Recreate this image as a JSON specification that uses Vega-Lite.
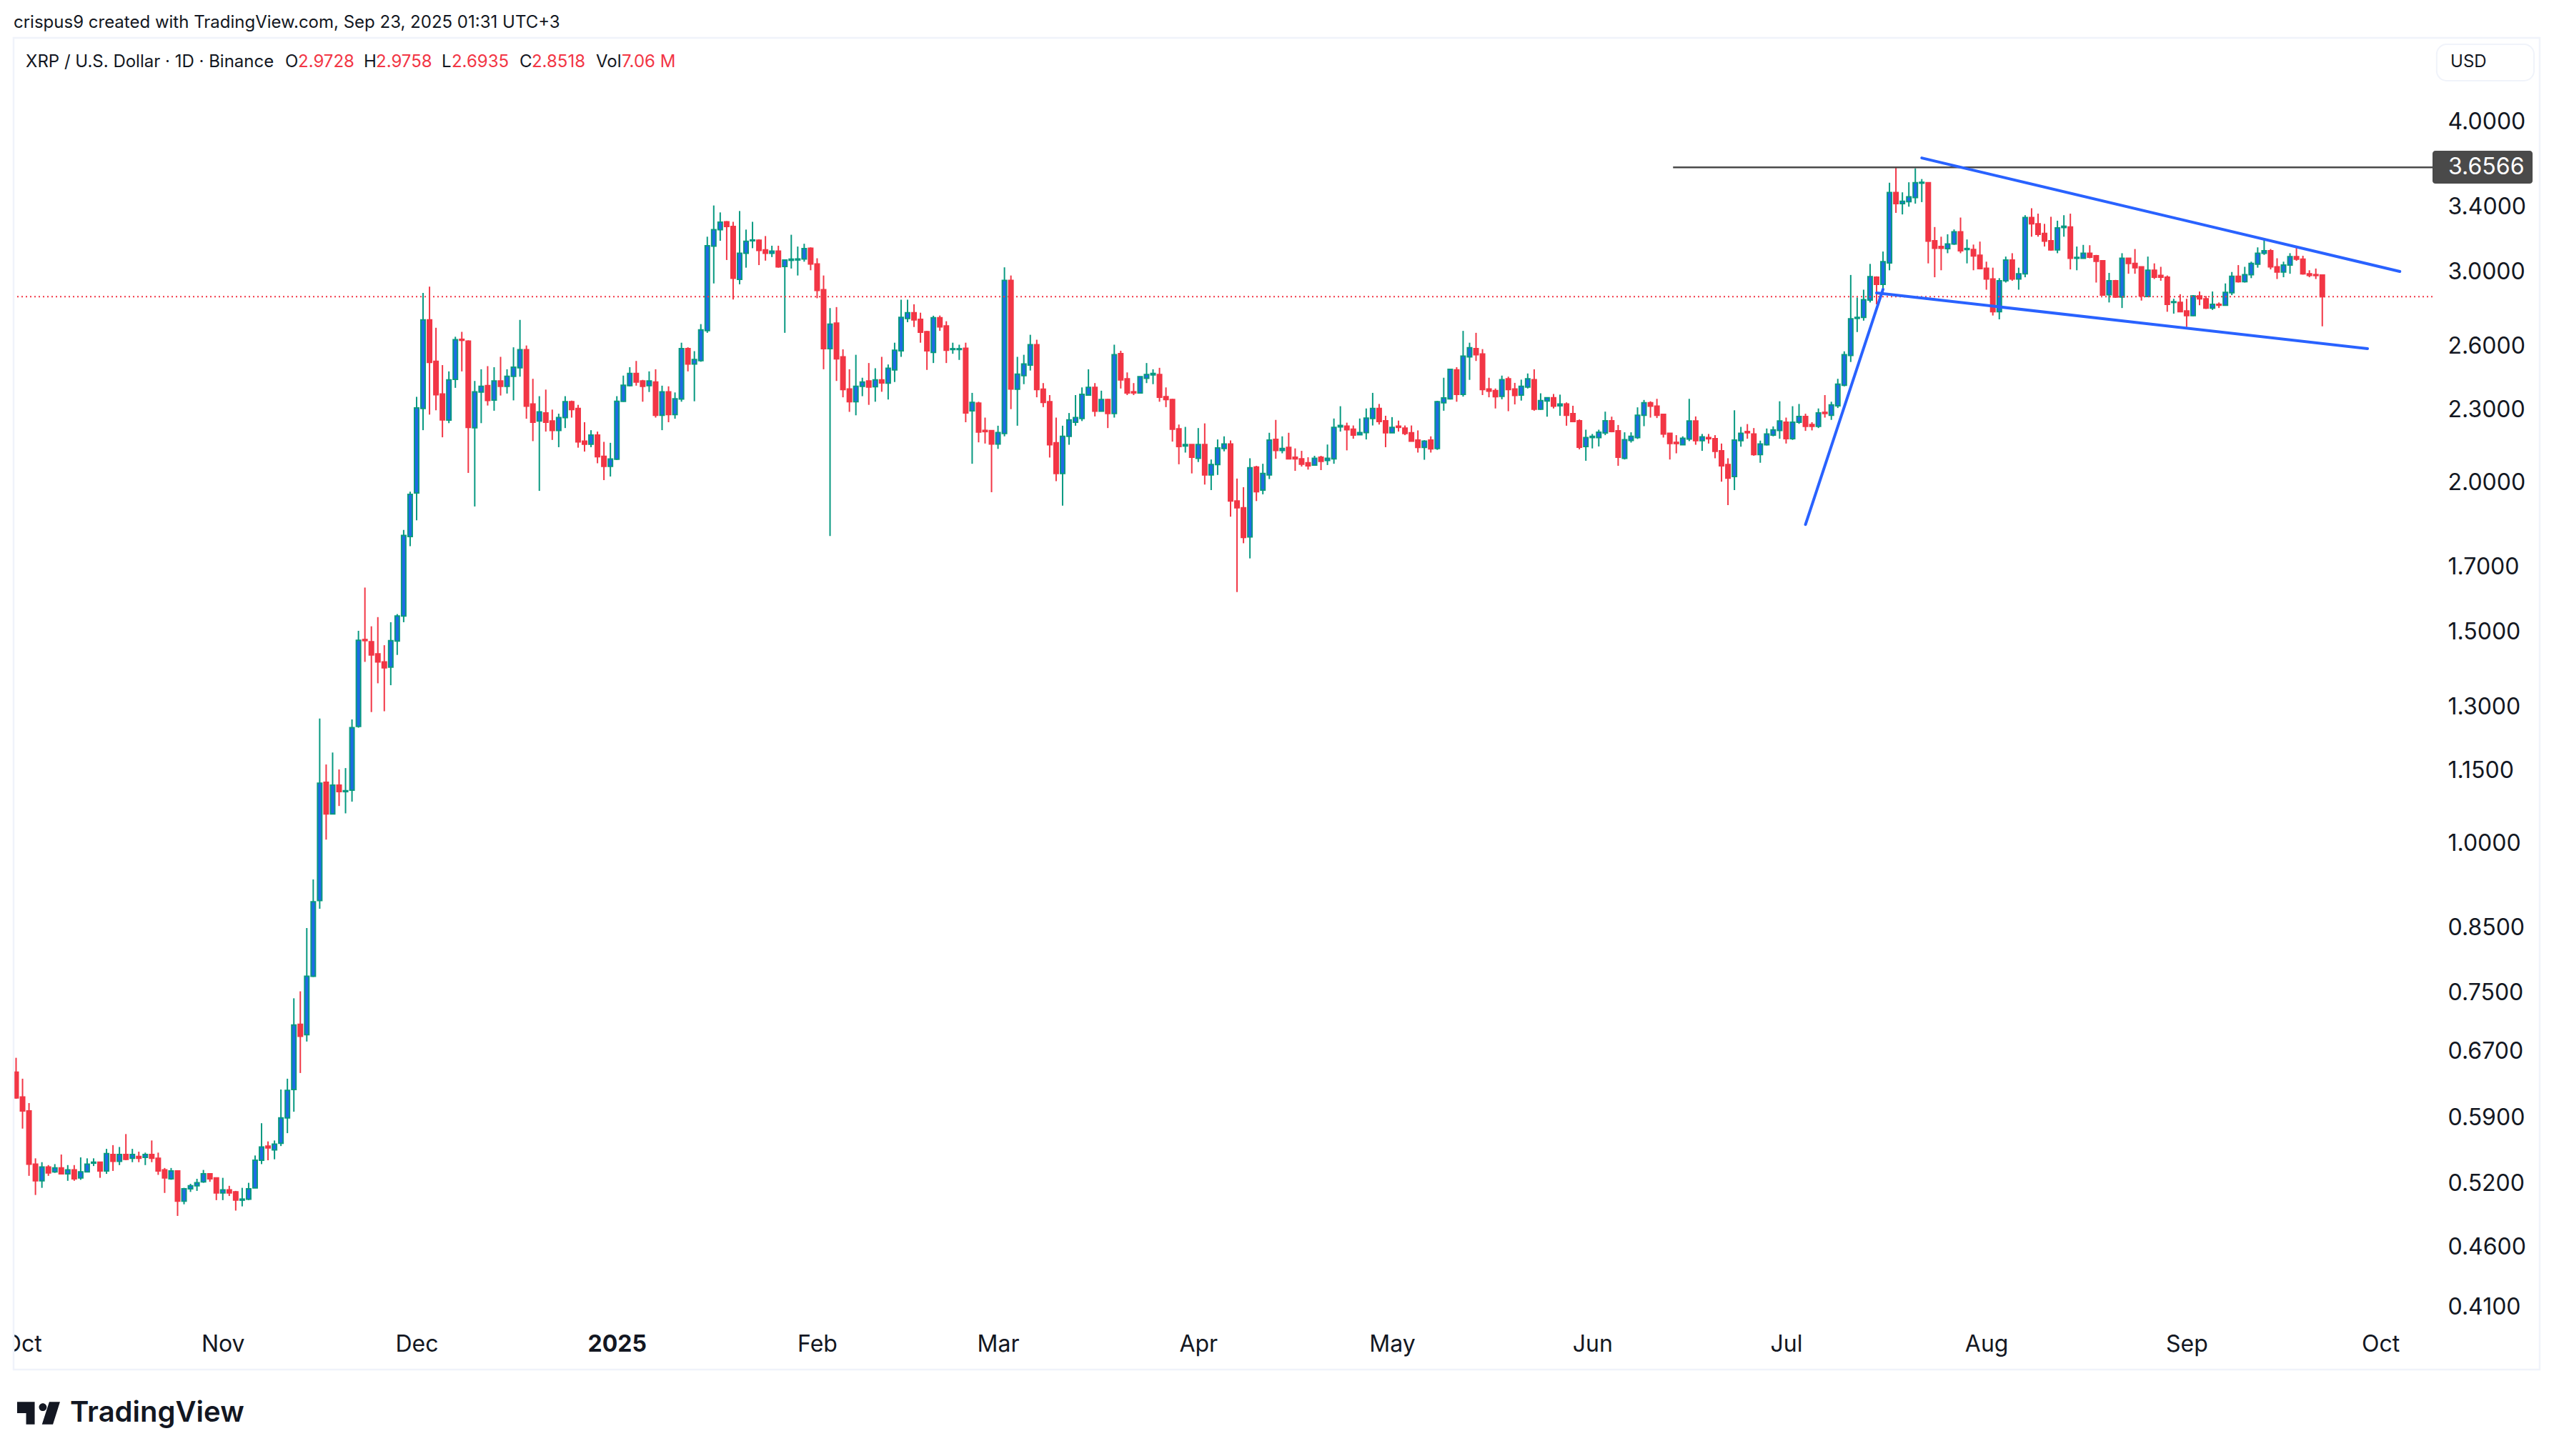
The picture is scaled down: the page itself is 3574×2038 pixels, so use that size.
{
"$schema":"https://vega.github.io/schema/vega-lite/v6.json",
"autosize":{"type":"none"},
"width":3385,"height":1807,
"padding":{"left":19,"top":53,"right":170,"bottom":178},
"background":"#ffffff",
"config":{"view":{"stroke":null},"font":"Inter"},
"datasets":{
"candles":[
{"date":"2024-09-30","open":0.642,"high":0.66,"low":0.61,"close":0.611},
{"date":"2024-10-01","open":0.612,"high":0.634,"low":0.576,"close":0.596},
{"date":"2024-10-02","open":0.596,"high":0.605,"low":0.526,"close":0.538},
{"date":"2024-10-03","open":0.538,"high":0.544,"low":0.507,"close":0.521},
{"date":"2024-10-04","open":0.521,"high":0.54,"low":0.514,"close":0.535},
{"date":"2024-10-05","open":0.535,"high":0.537,"low":0.526,"close":0.529},
{"date":"2024-10-06","open":0.53,"high":0.538,"low":0.529,"close":0.534},
{"date":"2024-10-07","open":0.534,"high":0.548,"low":0.528,"close":0.528},
{"date":"2024-10-08","open":0.528,"high":0.537,"low":0.521,"close":0.532},
{"date":"2024-10-09","open":0.532,"high":0.537,"low":0.521,"close":0.523},
{"date":"2024-10-10","open":0.524,"high":0.545,"low":0.522,"close":0.53},
{"date":"2024-10-11","open":0.53,"high":0.544,"low":0.53,"close":0.538},
{"date":"2024-10-12","open":0.539,"high":0.544,"low":0.536,"close":0.54},
{"date":"2024-10-13","open":0.54,"high":0.54,"low":0.524,"close":0.531},
{"date":"2024-10-14","open":0.531,"high":0.554,"low":0.528,"close":0.549},
{"date":"2024-10-15","open":0.548,"high":0.558,"low":0.531,"close":0.541},
{"date":"2024-10-16","open":0.541,"high":0.556,"low":0.537,"close":0.548},
{"date":"2024-10-17","open":0.548,"high":0.57,"low":0.542,"close":0.543},
{"date":"2024-10-18","open":0.544,"high":0.554,"low":0.54,"close":0.548},
{"date":"2024-10-19","open":0.546,"high":0.551,"low":0.54,"close":0.544},
{"date":"2024-10-20","open":0.545,"high":0.55,"low":0.537,"close":0.548},
{"date":"2024-10-21","open":0.548,"high":0.563,"low":0.54,"close":0.544},
{"date":"2024-10-22","open":0.544,"high":0.55,"low":0.527,"close":0.531},
{"date":"2024-10-23","open":0.532,"high":0.534,"low":0.509,"close":0.524},
{"date":"2024-10-24","open":0.523,"high":0.534,"low":0.522,"close":0.531},
{"date":"2024-10-25","open":0.531,"high":0.531,"low":0.487,"close":0.501},
{"date":"2024-10-26","open":0.501,"high":0.514,"low":0.498,"close":0.513},
{"date":"2024-10-27","open":0.513,"high":0.518,"low":0.51,"close":0.516},
{"date":"2024-10-28","open":0.516,"high":0.523,"low":0.511,"close":0.519},
{"date":"2024-10-29","open":0.52,"high":0.532,"low":0.519,"close":0.528},
{"date":"2024-10-30","open":0.528,"high":0.528,"low":0.52,"close":0.523},
{"date":"2024-10-31","open":0.524,"high":0.524,"low":0.502,"close":0.509},
{"date":"2024-11-01","open":0.509,"high":0.524,"low":0.502,"close":0.512},
{"date":"2024-11-02","open":0.512,"high":0.516,"low":0.506,"close":0.509},
{"date":"2024-11-03","open":0.51,"high":0.511,"low":0.492,"close":0.502},
{"date":"2024-11-04","open":0.502,"high":0.514,"low":0.496,"close":0.503},
{"date":"2024-11-05","open":0.503,"high":0.519,"low":0.502,"close":0.513},
{"date":"2024-11-06","open":0.514,"high":0.547,"low":0.514,"close":0.542},
{"date":"2024-11-07","open":0.542,"high":0.582,"low":0.538,"close":0.556},
{"date":"2024-11-08","open":0.557,"high":0.562,"low":0.542,"close":0.555},
{"date":"2024-11-09","open":0.553,"high":0.563,"low":0.543,"close":0.559},
{"date":"2024-11-10","open":0.56,"high":0.621,"low":0.557,"close":0.588},
{"date":"2024-11-11","open":0.588,"high":0.634,"low":0.571,"close":0.62},
{"date":"2024-11-12","open":0.621,"high":0.74,"low":0.595,"close":0.703},
{"date":"2024-11-13","open":0.704,"high":0.75,"low":0.641,"close":0.688},
{"date":"2024-11-14","open":0.69,"high":0.847,"low":0.681,"close":0.772},
{"date":"2024-11-15","open":0.772,"high":0.93,"low":0.771,"close":0.891},
{"date":"2024-11-16","open":0.893,"high":1.267,"low":0.879,"close":1.119},
{"date":"2024-11-17","open":1.121,"high":1.16,"low":1.004,"close":1.055},
{"date":"2024-11-18","open":1.055,"high":1.187,"low":1.055,"close":1.115},
{"date":"2024-11-19","open":1.115,"high":1.149,"low":1.071,"close":1.101},
{"date":"2024-11-20","open":1.101,"high":1.152,"low":1.056,"close":1.103},
{"date":"2024-11-21","open":1.104,"high":1.265,"low":1.08,"close":1.245},
{"date":"2024-11-22","open":1.248,"high":1.5,"low":1.245,"close":1.473},
{"date":"2024-11-23","open":1.475,"high":1.63,"low":1.413,"close":1.472},
{"date":"2024-11-24","open":1.469,"high":1.513,"low":1.283,"close":1.432},
{"date":"2024-11-25","open":1.435,"high":1.54,"low":1.356,"close":1.413},
{"date":"2024-11-26","open":1.413,"high":1.459,"low":1.285,"close":1.397},
{"date":"2024-11-27","open":1.399,"high":1.525,"low":1.351,"close":1.472},
{"date":"2024-11-28","open":1.471,"high":1.549,"low":1.432,"close":1.543},
{"date":"2024-11-29","open":1.543,"high":1.821,"low":1.525,"close":1.802},
{"date":"2024-11-30","open":1.798,"high":1.96,"low":1.765,"close":1.95},
{"date":"2024-12-01","open":1.955,"high":2.352,"low":1.855,"close":2.302},
{"date":"2024-12-02","open":2.3,"high":2.872,"low":2.206,"close":2.727},
{"date":"2024-12-03","open":2.727,"high":2.907,"low":2.273,"close":2.513},
{"date":"2024-12-04","open":2.518,"high":2.686,"low":2.292,"close":2.362},
{"date":"2024-12-05","open":2.365,"high":2.5,"low":2.176,"close":2.25},
{"date":"2024-12-06","open":2.249,"high":2.47,"low":2.236,"close":2.43},
{"date":"2024-12-07","open":2.432,"high":2.64,"low":2.393,"close":2.625},
{"date":"2024-12-08","open":2.627,"high":2.665,"low":2.47,"close":2.622},
{"date":"2024-12-09","open":2.618,"high":2.622,"low":2.032,"close":2.218},
{"date":"2024-12-10","open":2.216,"high":2.425,"low":1.905,"close":2.375},
{"date":"2024-12-11","open":2.374,"high":2.48,"low":2.236,"close":2.4},
{"date":"2024-12-12","open":2.403,"high":2.495,"low":2.313,"close":2.336},
{"date":"2024-12-13","open":2.337,"high":2.49,"low":2.29,"close":2.425},
{"date":"2024-12-14","open":2.425,"high":2.54,"low":2.358,"close":2.4},
{"date":"2024-12-15","open":2.4,"high":2.48,"low":2.367,"close":2.447},
{"date":"2024-12-16","open":2.447,"high":2.587,"low":2.336,"close":2.49},
{"date":"2024-12-17","open":2.487,"high":2.727,"low":2.445,"close":2.575},
{"date":"2024-12-18","open":2.575,"high":2.596,"low":2.255,"close":2.31},
{"date":"2024-12-19","open":2.32,"high":2.435,"low":2.16,"close":2.24},
{"date":"2024-12-20","open":2.245,"high":2.355,"low":1.963,"close":2.285},
{"date":"2024-12-21","open":2.28,"high":2.385,"low":2.2,"close":2.24},
{"date":"2024-12-22","open":2.245,"high":2.295,"low":2.165,"close":2.205},
{"date":"2024-12-23","open":2.205,"high":2.277,"low":2.135,"close":2.26},
{"date":"2024-12-24","open":2.26,"high":2.355,"low":2.215,"close":2.33},
{"date":"2024-12-25","open":2.33,"high":2.335,"low":2.26,"close":2.295},
{"date":"2024-12-26","open":2.3,"high":2.316,"low":2.133,"close":2.157},
{"date":"2024-12-27","open":2.16,"high":2.24,"low":2.117,"close":2.147},
{"date":"2024-12-28","open":2.147,"high":2.206,"low":2.135,"close":2.185},
{"date":"2024-12-29","open":2.185,"high":2.2,"low":2.07,"close":2.096},
{"date":"2024-12-30","open":2.098,"high":2.157,"low":2.004,"close":2.058},
{"date":"2024-12-31","open":2.058,"high":2.153,"low":2.018,"close":2.087},
{"date":"2025-01-01","open":2.086,"high":2.355,"low":2.083,"close":2.332},
{"date":"2025-01-02","open":2.332,"high":2.45,"low":2.33,"close":2.405},
{"date":"2025-01-03","open":2.403,"high":2.49,"low":2.4,"close":2.46},
{"date":"2025-01-04","open":2.46,"high":2.52,"low":2.403,"close":2.42},
{"date":"2025-01-05","open":2.425,"high":2.43,"low":2.33,"close":2.4},
{"date":"2025-01-06","open":2.403,"high":2.47,"low":2.374,"close":2.425},
{"date":"2025-01-07","open":2.42,"high":2.48,"low":2.26,"close":2.27},
{"date":"2025-01-08","open":2.27,"high":2.403,"low":2.206,"close":2.375},
{"date":"2025-01-09","open":2.375,"high":2.4,"low":2.24,"close":2.273},
{"date":"2025-01-10","open":2.273,"high":2.372,"low":2.255,"close":2.343},
{"date":"2025-01-11","open":2.342,"high":2.61,"low":2.33,"close":2.58},
{"date":"2025-01-12","open":2.58,"high":2.587,"low":2.47,"close":2.505},
{"date":"2025-01-13","open":2.505,"high":2.568,"low":2.332,"close":2.527},
{"date":"2025-01-14","open":2.522,"high":2.705,"low":2.516,"close":2.675},
{"date":"2025-01-15","open":2.671,"high":3.2,"low":2.66,"close":3.145},
{"date":"2025-01-16","open":3.143,"high":3.398,"low":2.925,"close":3.243},
{"date":"2025-01-17","open":3.243,"high":3.353,"low":3.175,"close":3.29},
{"date":"2025-01-18","open":3.293,"high":3.297,"low":3.06,"close":3.263},
{"date":"2025-01-19","open":3.263,"high":3.293,"low":2.836,"close":2.954},
{"date":"2025-01-20","open":2.948,"high":3.362,"low":2.92,"close":3.1},
{"date":"2025-01-21","open":3.1,"high":3.244,"low":3.015,"close":3.172},
{"date":"2025-01-22","open":3.175,"high":3.293,"low":3.13,"close":3.18},
{"date":"2025-01-23","open":3.178,"high":3.184,"low":3.03,"close":3.117},
{"date":"2025-01-24","open":3.12,"high":3.204,"low":3.056,"close":3.1},
{"date":"2025-01-25","open":3.1,"high":3.145,"low":3.077,"close":3.112},
{"date":"2025-01-26","open":3.112,"high":3.145,"low":3.015,"close":3.02},
{"date":"2025-01-27","open":3.022,"high":3.06,"low":2.66,"close":3.06},
{"date":"2025-01-28","open":3.058,"high":3.212,"low":3.01,"close":3.065},
{"date":"2025-01-29","open":3.06,"high":3.14,"low":2.97,"close":3.066},
{"date":"2025-01-30","open":3.066,"high":3.157,"low":3.05,"close":3.127},
{"date":"2025-01-31","open":3.13,"high":3.135,"low":3.0,"close":3.036},
{"date":"2025-02-01","open":3.036,"high":3.07,"low":2.843,"close":2.886},
{"date":"2025-02-02","open":2.89,"high":2.97,"low":2.48,"close":2.58},
{"date":"2025-02-03","open":2.58,"high":2.79,"low":1.8,"close":2.705},
{"date":"2025-02-04","open":2.71,"high":2.795,"low":2.425,"close":2.53},
{"date":"2025-02-05","open":2.54,"high":2.577,"low":2.35,"close":2.385},
{"date":"2025-02-06","open":2.388,"high":2.48,"low":2.285,"close":2.33},
{"date":"2025-02-07","open":2.33,"high":2.55,"low":2.27,"close":2.4},
{"date":"2025-02-08","open":2.4,"high":2.44,"low":2.355,"close":2.42},
{"date":"2025-02-09","open":2.425,"high":2.51,"low":2.316,"close":2.397},
{"date":"2025-02-10","open":2.398,"high":2.485,"low":2.33,"close":2.43},
{"date":"2025-02-11","open":2.43,"high":2.54,"low":2.375,"close":2.416},
{"date":"2025-02-12","open":2.415,"high":2.503,"low":2.34,"close":2.485},
{"date":"2025-02-13","open":2.477,"high":2.61,"low":2.42,"close":2.572},
{"date":"2025-02-14","open":2.57,"high":2.835,"low":2.54,"close":2.74},
{"date":"2025-02-15","open":2.735,"high":2.835,"low":2.715,"close":2.765},
{"date":"2025-02-16","open":2.765,"high":2.81,"low":2.69,"close":2.727},
{"date":"2025-02-17","open":2.73,"high":2.765,"low":2.61,"close":2.663},
{"date":"2025-02-18","open":2.666,"high":2.67,"low":2.477,"close":2.57},
{"date":"2025-02-19","open":2.562,"high":2.749,"low":2.51,"close":2.738},
{"date":"2025-02-20","open":2.738,"high":2.75,"low":2.67,"close":2.691},
{"date":"2025-02-21","open":2.695,"high":2.72,"low":2.51,"close":2.572},
{"date":"2025-02-22","open":2.576,"high":2.61,"low":2.555,"close":2.58},
{"date":"2025-02-23","open":2.576,"high":2.6,"low":2.525,"close":2.58},
{"date":"2025-02-24","open":2.582,"high":2.61,"low":2.24,"close":2.28},
{"date":"2025-02-25","open":2.29,"high":2.37,"low":2.068,"close":2.327},
{"date":"2025-02-26","open":2.324,"high":2.33,"low":2.155,"close":2.198},
{"date":"2025-02-27","open":2.205,"high":2.26,"low":2.15,"close":2.2},
{"date":"2025-02-28","open":2.204,"high":2.205,"low":1.958,"close":2.148},
{"date":"2025-03-01","open":2.148,"high":2.225,"low":2.128,"close":2.196},
{"date":"2025-03-02","open":2.192,"high":3.017,"low":2.18,"close":2.942},
{"date":"2025-03-03","open":2.942,"high":2.97,"low":2.297,"close":2.388},
{"date":"2025-03-04","open":2.387,"high":2.54,"low":2.225,"close":2.457},
{"date":"2025-03-05","open":2.45,"high":2.55,"low":2.41,"close":2.505},
{"date":"2025-03-06","open":2.5,"high":2.65,"low":2.474,"close":2.6},
{"date":"2025-03-07","open":2.6,"high":2.625,"low":2.35,"close":2.385},
{"date":"2025-03-08","open":2.387,"high":2.415,"low":2.306,"close":2.327},
{"date":"2025-03-09","open":2.33,"high":2.36,"low":2.093,"close":2.145},
{"date":"2025-03-10","open":2.153,"high":2.26,"low":2.0,"close":2.03},
{"date":"2025-03-11","open":2.03,"high":2.225,"low":1.908,"close":2.18},
{"date":"2025-03-12","open":2.18,"high":2.28,"low":2.145,"close":2.25},
{"date":"2025-03-13","open":2.24,"high":2.36,"low":2.225,"close":2.26},
{"date":"2025-03-14","open":2.256,"high":2.395,"low":2.245,"close":2.363},
{"date":"2025-03-15","open":2.36,"high":2.48,"low":2.36,"close":2.395},
{"date":"2025-03-16","open":2.395,"high":2.415,"low":2.265,"close":2.288},
{"date":"2025-03-17","open":2.288,"high":2.38,"low":2.288,"close":2.34},
{"date":"2025-03-18","open":2.34,"high":2.343,"low":2.215,"close":2.278},
{"date":"2025-03-19","open":2.278,"high":2.6,"low":2.26,"close":2.55},
{"date":"2025-03-20","open":2.556,"high":2.57,"low":2.39,"close":2.43},
{"date":"2025-03-21","open":2.435,"high":2.465,"low":2.36,"close":2.37},
{"date":"2025-03-22","open":2.375,"high":2.415,"low":2.36,"close":2.37},
{"date":"2025-03-23","open":2.37,"high":2.445,"low":2.37,"close":2.445},
{"date":"2025-03-24","open":2.437,"high":2.51,"low":2.415,"close":2.455},
{"date":"2025-03-25","open":2.453,"high":2.48,"low":2.41,"close":2.46},
{"date":"2025-03-26","open":2.455,"high":2.487,"low":2.33,"close":2.35},
{"date":"2025-03-27","open":2.353,"high":2.395,"low":2.306,"close":2.34},
{"date":"2025-03-28","open":2.34,"high":2.343,"low":2.158,"close":2.21},
{"date":"2025-03-29","open":2.212,"high":2.23,"low":2.066,"close":2.138},
{"date":"2025-03-30","open":2.14,"high":2.22,"low":2.113,"close":2.146},
{"date":"2025-03-31","open":2.146,"high":2.146,"low":2.03,"close":2.094},
{"date":"2025-04-01","open":2.09,"high":2.215,"low":2.075,"close":2.146},
{"date":"2025-04-02","open":2.146,"high":2.235,"low":1.987,"close":2.024},
{"date":"2025-04-03","open":2.024,"high":2.085,"low":1.966,"close":2.065},
{"date":"2025-04-04","open":2.065,"high":2.167,"low":2.024,"close":2.132},
{"date":"2025-04-05","open":2.13,"high":2.18,"low":2.118,"close":2.148},
{"date":"2025-04-06","open":2.148,"high":2.163,"low":1.868,"close":1.925},
{"date":"2025-04-07","open":1.925,"high":2.01,"low":1.616,"close":1.9},
{"date":"2025-04-08","open":1.9,"high":1.977,"low":1.775,"close":1.795},
{"date":"2025-04-09","open":1.797,"high":2.09,"low":1.724,"close":2.052},
{"date":"2025-04-10","open":2.055,"high":2.06,"low":1.925,"close":1.96},
{"date":"2025-04-11","open":1.966,"high":2.068,"low":1.95,"close":2.03},
{"date":"2025-04-12","open":2.024,"high":2.195,"low":2.008,"close":2.164},
{"date":"2025-04-13","open":2.167,"high":2.25,"low":2.088,"close":2.122},
{"date":"2025-04-14","open":2.122,"high":2.18,"low":2.11,"close":2.13},
{"date":"2025-04-15","open":2.134,"high":2.195,"low":2.088,"close":2.088},
{"date":"2025-04-16","open":2.094,"high":2.13,"low":2.04,"close":2.088},
{"date":"2025-04-17","open":2.088,"high":2.12,"low":2.057,"close":2.066},
{"date":"2025-04-18","open":2.072,"high":2.094,"low":2.045,"close":2.06},
{"date":"2025-04-19","open":2.063,"high":2.1,"low":2.063,"close":2.09},
{"date":"2025-04-20","open":2.094,"high":2.1,"low":2.043,"close":2.078},
{"date":"2025-04-21","open":2.081,"high":2.146,"low":2.063,"close":2.09},
{"date":"2025-04-22","open":2.088,"high":2.256,"low":2.068,"close":2.218},
{"date":"2025-04-23","open":2.22,"high":2.31,"low":2.2,"close":2.226},
{"date":"2025-04-24","open":2.223,"high":2.238,"low":2.122,"close":2.208},
{"date":"2025-04-25","open":2.21,"high":2.226,"low":2.17,"close":2.185},
{"date":"2025-04-26","open":2.187,"high":2.256,"low":2.187,"close":2.196},
{"date":"2025-04-27","open":2.196,"high":2.3,"low":2.167,"close":2.258},
{"date":"2025-04-28","open":2.256,"high":2.37,"low":2.226,"close":2.3},
{"date":"2025-04-29","open":2.3,"high":2.32,"low":2.23,"close":2.243},
{"date":"2025-04-30","open":2.246,"high":2.268,"low":2.135,"close":2.195},
{"date":"2025-05-01","open":2.195,"high":2.262,"low":2.195,"close":2.218},
{"date":"2025-05-02","open":2.223,"high":2.247,"low":2.2,"close":2.218},
{"date":"2025-05-03","open":2.215,"high":2.226,"low":2.185,"close":2.192},
{"date":"2025-05-04","open":2.195,"high":2.226,"low":2.16,"close":2.16},
{"date":"2025-05-05","open":2.164,"high":2.205,"low":2.113,"close":2.134},
{"date":"2025-05-06","open":2.134,"high":2.164,"low":2.084,"close":2.16},
{"date":"2025-05-07","open":2.164,"high":2.18,"low":2.113,"close":2.128},
{"date":"2025-05-08","open":2.13,"high":2.334,"low":2.124,"close":2.33},
{"date":"2025-05-09","open":2.325,"high":2.44,"low":2.29,"close":2.347},
{"date":"2025-05-10","open":2.343,"high":2.483,"low":2.34,"close":2.48},
{"date":"2025-05-11","open":2.477,"high":2.49,"low":2.33,"close":2.363},
{"date":"2025-05-12","open":2.363,"high":2.67,"low":2.353,"close":2.543},
{"date":"2025-05-13","open":2.54,"high":2.61,"low":2.43,"close":2.585},
{"date":"2025-05-14","open":2.58,"high":2.66,"low":2.52,"close":2.55},
{"date":"2025-05-15","open":2.554,"high":2.578,"low":2.36,"close":2.385},
{"date":"2025-05-16","open":2.388,"high":2.44,"low":2.35,"close":2.378},
{"date":"2025-05-17","open":2.38,"high":2.39,"low":2.3,"close":2.353},
{"date":"2025-05-18","open":2.354,"high":2.45,"low":2.341,"close":2.431},
{"date":"2025-05-19","open":2.435,"high":2.445,"low":2.288,"close":2.385},
{"date":"2025-05-20","open":2.388,"high":2.416,"low":2.318,"close":2.358},
{"date":"2025-05-21","open":2.36,"high":2.431,"low":2.335,"close":2.4},
{"date":"2025-05-22","open":2.397,"high":2.46,"low":2.39,"close":2.435},
{"date":"2025-05-23","open":2.431,"high":2.48,"low":2.29,"close":2.297},
{"date":"2025-05-24","open":2.297,"high":2.368,"low":2.294,"close":2.335},
{"date":"2025-05-25","open":2.333,"high":2.35,"low":2.264,"close":2.348},
{"date":"2025-05-26","open":2.348,"high":2.365,"low":2.3,"close":2.31},
{"date":"2025-05-27","open":2.312,"high":2.362,"low":2.268,"close":2.32},
{"date":"2025-05-28","open":2.32,"high":2.327,"low":2.225,"close":2.27},
{"date":"2025-05-29","open":2.277,"high":2.312,"low":2.24,"close":2.243},
{"date":"2025-05-30","open":2.246,"high":2.252,"low":2.126,"close":2.135},
{"date":"2025-05-31","open":2.138,"high":2.208,"low":2.08,"close":2.175},
{"date":"2025-06-01","open":2.175,"high":2.19,"low":2.13,"close":2.18},
{"date":"2025-06-02","open":2.175,"high":2.208,"low":2.138,"close":2.197},
{"date":"2025-06-03","open":2.194,"high":2.286,"low":2.185,"close":2.246},
{"date":"2025-06-04","open":2.246,"high":2.264,"low":2.197,"close":2.2},
{"date":"2025-06-05","open":2.203,"high":2.228,"low":2.06,"close":2.094},
{"date":"2025-06-06","open":2.09,"high":2.197,"low":2.085,"close":2.166},
{"date":"2025-06-07","open":2.163,"high":2.197,"low":2.154,"close":2.18},
{"date":"2025-06-08","open":2.175,"high":2.305,"low":2.169,"close":2.27},
{"date":"2025-06-09","open":2.27,"high":2.338,"low":2.223,"close":2.325},
{"date":"2025-06-10","open":2.325,"high":2.332,"low":2.26,"close":2.31},
{"date":"2025-06-11","open":2.31,"high":2.343,"low":2.258,"close":2.27},
{"date":"2025-06-12","open":2.274,"high":2.277,"low":2.175,"close":2.19},
{"date":"2025-06-13","open":2.193,"high":2.193,"low":2.085,"close":2.15},
{"date":"2025-06-14","open":2.155,"high":2.185,"low":2.11,"close":2.15},
{"date":"2025-06-15","open":2.145,"high":2.18,"low":2.145,"close":2.172},
{"date":"2025-06-16","open":2.169,"high":2.343,"low":2.16,"close":2.245},
{"date":"2025-06-17","open":2.245,"high":2.265,"low":2.145,"close":2.162},
{"date":"2025-06-18","open":2.162,"high":2.19,"low":2.12,"close":2.178},
{"date":"2025-06-19","open":2.175,"high":2.19,"low":2.15,"close":2.17},
{"date":"2025-06-20","open":2.17,"high":2.185,"low":2.09,"close":2.118},
{"date":"2025-06-21","open":2.12,"high":2.15,"low":1.998,"close":2.06},
{"date":"2025-06-22","open":2.065,"high":2.09,"low":1.91,"close":2.012},
{"date":"2025-06-23","open":2.018,"high":2.292,"low":1.966,"close":2.164},
{"date":"2025-06-24","open":2.162,"high":2.22,"low":2.137,"close":2.193},
{"date":"2025-06-25","open":2.2,"high":2.232,"low":2.17,"close":2.195},
{"date":"2025-06-26","open":2.19,"high":2.215,"low":2.1,"close":2.105},
{"date":"2025-06-27","open":2.105,"high":2.162,"low":2.072,"close":2.148},
{"date":"2025-06-28","open":2.145,"high":2.213,"low":2.142,"close":2.19},
{"date":"2025-06-29","open":2.185,"high":2.222,"low":2.18,"close":2.207},
{"date":"2025-06-30","open":2.205,"high":2.332,"low":2.17,"close":2.245},
{"date":"2025-07-01","open":2.24,"high":2.26,"low":2.15,"close":2.17},
{"date":"2025-07-02","open":2.17,"high":2.31,"low":2.165,"close":2.24},
{"date":"2025-07-03","open":2.24,"high":2.32,"low":2.233,"close":2.265},
{"date":"2025-07-04","open":2.265,"high":2.277,"low":2.203,"close":2.222},
{"date":"2025-07-05","open":2.23,"high":2.24,"low":2.205,"close":2.222},
{"date":"2025-07-06","open":2.222,"high":2.3,"low":2.215,"close":2.28},
{"date":"2025-07-07","open":2.283,"high":2.36,"low":2.26,"close":2.278},
{"date":"2025-07-08","open":2.27,"high":2.33,"low":2.25,"close":2.316},
{"date":"2025-07-09","open":2.312,"high":2.435,"low":2.302,"close":2.41},
{"date":"2025-07-10","open":2.405,"high":2.567,"low":2.4,"close":2.55},
{"date":"2025-07-11","open":2.547,"high":2.973,"low":2.515,"close":2.733},
{"date":"2025-07-12","open":2.735,"high":2.847,"low":2.664,"close":2.74},
{"date":"2025-07-13","open":2.74,"high":2.89,"low":2.723,"close":2.835},
{"date":"2025-07-14","open":2.833,"high":3.037,"low":2.82,"close":2.963},
{"date":"2025-07-15","open":2.96,"high":2.965,"low":2.81,"close":2.92},
{"date":"2025-07-16","open":2.92,"high":3.11,"low":2.87,"close":3.05},
{"date":"2025-07-17","open":3.043,"high":3.55,"low":3.0,"close":3.483},
{"date":"2025-07-18","open":3.483,"high":3.6566,"low":3.35,"close":3.41},
{"date":"2025-07-19","open":3.41,"high":3.485,"low":3.34,"close":3.425},
{"date":"2025-07-20","open":3.423,"high":3.553,"low":3.39,"close":3.455},
{"date":"2025-07-21","open":3.45,"high":3.65,"low":3.41,"close":3.55},
{"date":"2025-07-22","open":3.547,"high":3.575,"low":3.42,"close":3.553},
{"date":"2025-07-23","open":3.55,"high":3.55,"low":3.04,"close":3.173},
{"date":"2025-07-24","open":3.175,"high":3.26,"low":2.96,"close":3.13},
{"date":"2025-07-25","open":3.14,"high":3.2,"low":3.0,"close":3.13},
{"date":"2025-07-26","open":3.127,"high":3.215,"low":3.1,"close":3.155},
{"date":"2025-07-27","open":3.155,"high":3.245,"low":3.15,"close":3.23},
{"date":"2025-07-28","open":3.23,"high":3.32,"low":3.1,"close":3.115},
{"date":"2025-07-29","open":3.122,"high":3.183,"low":3.04,"close":3.128},
{"date":"2025-07-30","open":3.122,"high":3.152,"low":3.0,"close":3.084},
{"date":"2025-07-31","open":3.088,"high":3.17,"low":3.005,"close":3.01},
{"date":"2025-08-01","open":3.012,"high":3.05,"low":2.89,"close":2.95},
{"date":"2025-08-02","open":2.95,"high":3.015,"low":2.75,"close":2.77},
{"date":"2025-08-03","open":2.77,"high":2.955,"low":2.73,"close":2.94},
{"date":"2025-08-04","open":2.94,"high":3.08,"low":2.93,"close":3.06},
{"date":"2025-08-05","open":3.06,"high":3.1,"low":2.94,"close":2.95},
{"date":"2025-08-06","open":2.95,"high":3.015,"low":2.89,"close":2.98},
{"date":"2025-08-07","open":2.98,"high":3.335,"low":2.96,"close":3.32},
{"date":"2025-08-08","open":3.32,"high":3.38,"low":3.2,"close":3.28},
{"date":"2025-08-09","open":3.28,"high":3.345,"low":3.2,"close":3.215},
{"date":"2025-08-10","open":3.22,"high":3.28,"low":3.14,"close":3.173},
{"date":"2025-08-11","open":3.175,"high":3.325,"low":3.115,"close":3.12},
{"date":"2025-08-12","open":3.12,"high":3.3,"low":3.1,"close":3.255},
{"date":"2025-08-13","open":3.257,"high":3.335,"low":3.2,"close":3.265},
{"date":"2025-08-14","open":3.26,"high":3.345,"low":3.005,"close":3.07},
{"date":"2025-08-15","open":3.07,"high":3.14,"low":3.0,"close":3.075},
{"date":"2025-08-16","open":3.07,"high":3.15,"low":3.07,"close":3.1},
{"date":"2025-08-17","open":3.1,"high":3.148,"low":3.07,"close":3.076},
{"date":"2025-08-18","open":3.085,"high":3.09,"low":2.93,"close":3.052},
{"date":"2025-08-19","open":3.055,"high":3.058,"low":2.86,"close":2.86},
{"date":"2025-08-20","open":2.862,"high":2.985,"low":2.82,"close":2.94},
{"date":"2025-08-21","open":2.94,"high":2.945,"low":2.845,"close":2.85},
{"date":"2025-08-22","open":2.85,"high":3.1,"low":2.79,"close":3.07},
{"date":"2025-08-23","open":3.07,"high":3.07,"low":2.98,"close":3.04},
{"date":"2025-08-24","open":3.04,"high":3.125,"low":2.98,"close":3.015},
{"date":"2025-08-25","open":3.02,"high":3.022,"low":2.83,"close":2.855},
{"date":"2025-08-26","open":2.853,"high":3.08,"low":2.85,"close":3.0},
{"date":"2025-08-27","open":3.0,"high":3.04,"low":2.95,"close":2.96},
{"date":"2025-08-28","open":2.97,"high":3.02,"low":2.94,"close":2.96},
{"date":"2025-08-29","open":2.96,"high":2.97,"low":2.77,"close":2.81},
{"date":"2025-08-30","open":2.82,"high":2.84,"low":2.76,"close":2.824},
{"date":"2025-08-31","open":2.82,"high":2.865,"low":2.77,"close":2.77},
{"date":"2025-09-01","open":2.774,"high":2.84,"low":2.69,"close":2.75},
{"date":"2025-09-02","open":2.75,"high":2.86,"low":2.747,"close":2.855},
{"date":"2025-09-03","open":2.855,"high":2.88,"low":2.805,"close":2.84},
{"date":"2025-09-04","open":2.84,"high":2.855,"low":2.785,"close":2.79},
{"date":"2025-09-05","open":2.79,"high":2.88,"low":2.78,"close":2.81},
{"date":"2025-09-06","open":2.81,"high":2.82,"low":2.79,"close":2.805},
{"date":"2025-09-07","open":2.805,"high":2.925,"low":2.805,"close":2.875},
{"date":"2025-09-08","open":2.873,"high":2.99,"low":2.86,"close":2.965},
{"date":"2025-09-09","open":2.965,"high":3.03,"low":2.93,"close":2.935},
{"date":"2025-09-10","open":2.935,"high":3.02,"low":2.93,"close":2.975},
{"date":"2025-09-11","open":2.975,"high":3.05,"low":2.955,"close":3.04},
{"date":"2025-09-12","open":3.035,"high":3.135,"low":3.015,"close":3.1},
{"date":"2025-09-13","open":3.1,"high":3.18,"low":3.09,"close":3.115},
{"date":"2025-09-14","open":3.115,"high":3.125,"low":3.005,"close":3.02},
{"date":"2025-09-15","open":3.02,"high":3.07,"low":2.95,"close":2.99},
{"date":"2025-09-16","open":2.99,"high":3.05,"low":2.96,"close":3.03},
{"date":"2025-09-17","open":3.03,"high":3.1,"low":2.98,"close":3.08},
{"date":"2025-09-18","open":3.08,"high":3.14,"low":3.055,"close":3.065},
{"date":"2025-09-19","open":3.065,"high":3.085,"low":2.975,"close":2.98},
{"date":"2025-09-20","open":2.98,"high":3.0,"low":2.96,"close":2.97},
{"date":"2025-09-21","open":2.975,"high":3.01,"low":2.95,"close":2.97},
{"date":"2025-09-22","open":2.9728,"high":2.9758,"low":2.6935,"close":2.8518}
],
"trend":[
{"line":"pole","date":"2025-07-04","price":1.84},
{"line":"pole","date":"2025-07-16","price":2.892},
{"line":"lower","date":"2025-07-15","price":2.872},
{"line":"lower","date":"2025-09-29","price":2.58},
{"line":"upper","date":"2025-07-22","price":3.723},
{"line":"upper","date":"2025-10-04","price":2.993}
],
"notes":[
{"date":"2024-09-29T14:43:00Z","price":4.827,"label":"crispus9 created with TradingView.com, Sep 23, 2025 01:31 UTC+3","kind":"label"},
{"date":"2024-10-01T12:00:00Z","price":4.476,"label":"XRP / U.S. Dollar · 1D · Binance","kind":"label"},
{"date":"2024-11-10T15:36:00Z","price":4.476,"label":"O","kind":"label"},
{"date":"2024-11-12T15:22:00Z","price":4.476,"label":"2.9728","kind":"value"},
{"date":"2024-11-22T19:40:00Z","price":4.476,"label":"H","kind":"label"},
{"date":"2024-11-24T16:48:00Z","price":4.476,"label":"2.9758","kind":"value"},
{"date":"2024-12-04T20:53:00Z","price":4.476,"label":"L","kind":"label"},
{"date":"2024-12-06T10:05:00Z","price":4.476,"label":"2.6935","kind":"value"},
{"date":"2024-12-16T22:19:00Z","price":4.476,"label":"C","kind":"label"},
{"date":"2024-12-18T19:26:00Z","price":4.476,"label":"2.8518","kind":"value"},
{"date":"2024-12-28T18:29:00Z","price":4.476,"label":"Vol","kind":"label"},
{"date":"2025-01-01T18:00:00Z","price":4.476,"label":"7.06 M","kind":"value"},
{"date":"2025-10-11T20:00:00Z","price":4.476,"label":"USD","kind":"label"}
]
},
"layer":[
{"data":{"name":"candles"},
"mark":{"type":"rule","strokeWidth":2},
"encoding":{
"x":{"field":"date","type":"temporal","scale":{"type":"utc","padding":0,"domain":["2024-09-29T14:43:00Z","2025-10-09T01:30:00Z"]},
"axis":{"title":null,"domain":false,"ticks":false,"grid":false,"labelFont":"Inter","labelFontSize":32,"labelColor":"#131722","labelPadding":6,"labelOverlap":false,"labelFlush":false,"labelBound":false,
"values":["2024-10-01","2024-11-01","2024-12-01","2025-01-01","2025-02-01","2025-03-01","2025-04-01","2025-05-01","2025-06-01","2025-07-01","2025-08-01","2025-09-01","2025-10-01"],
"labelExpr":"utcmonth(datum.value)==0 ? utcFormat(datum.value,'%Y') : utcFormat(datum.value,'%b')",
"labelFontWeight":{"condition":{"test":"utcmonth(datum.value)==0","value":700},"value":400}}},
"y":{"field":"low","type":"quantitative","scale":{"type":"log","domain":[0.39196,4.69],"nice":false,"zero":false},
"axis":{"title":null,"orient":"right","domain":false,"ticks":false,"grid":false,"labelFont":"Inter","labelFontSize":32,"labelColor":"#131722","labelPadding":21,"labelOffset":2,"labelAlign":"left","labelOverlap":false,"labelFlush":false,"labelBound":false,"format":".4f",
"values":[4,3.4,3,2.6,2.3,2,1.7,1.5,1.3,1.15,1,0.85,0.75,0.67,0.59,0.52,0.46,0.41]}},
"y2":{"field":"high"},
"stroke":{"condition":{"test":"datum.close >= datum.open","value":"#089981"},"value":"#F23645"}}},
{"data":{"name":"candles"},
"mark":{"type":"bar","size":6,"strokeWidth":2},
"encoding":{
"x":{"field":"date","type":"temporal"},
"y":{"field":"open","type":"quantitative"},
"y2":{"field":"close"},
"fill":{"condition":{"test":"datum.close >= datum.open","value":"#1E6BE6"},"value":"#F23645"},
"stroke":{"condition":{"test":"datum.close >= datum.open","value":"#089981"},"value":"#F23645"}}},
{"data":{"values":[{"price":2.8518}]},
"mark":{"type":"rule","stroke":"#F23645","strokeWidth":2,"strokeDash":[2,4]},
"encoding":{"y":{"field":"price","type":"quantitative"}}},
{"data":{"values":[{"date":"2025-06-13T12:00:00Z","price":3.6566},{"date":"2025-10-09T01:30:00Z","price":3.6566}]},
"mark":{"type":"line","stroke":"#4A4A4A","strokeWidth":2.4},
"encoding":{"x":{"field":"date","type":"temporal"},"y":{"field":"price","type":"quantitative"}}},
{"data":{"name":"trend"},
"mark":{"type":"line","stroke":"#2962FF","strokeWidth":4,"strokeCap":"round"},
"encoding":{"x":{"field":"date","type":"temporal"},"y":{"field":"price","type":"quantitative"},"detail":{"field":"line"}}},
{"data":{"values":[{"date":"2024-09-27T12:00:00Z","date2":"2024-09-29T14:43:00Z","price":0.39196,"price2":0.3624}]},
"mark":{"type":"rect","fill":"#ffffff"},
"encoding":{"x":{"field":"date","type":"temporal"},"x2":{"field":"date2"},"y":{"field":"price","type":"quantitative"},"y2":{"field":"price2"}}},
{"data":{"values":[{"date":"2024-09-29T14:43:00Z","date2":"2025-10-25T15:36:00Z","price":4.69,"price2":0.3624}]},
"mark":{"type":"rect","fillOpacity":0,"stroke":"#F0F3FA","strokeWidth":2.5},
"encoding":{"x":{"field":"date","type":"temporal"},"x2":{"field":"date2"},"y":{"field":"price","type":"quantitative"},"y2":{"field":"price2"}}},
{"data":{"values":[{"date":"2025-10-09T17:00:00Z","date2":"2025-10-24T18:29:00Z","price":4.632,"price2":4.319}]},
"mark":{"type":"rect","fillOpacity":0,"stroke":"#F0F3FA","strokeWidth":2,"cornerRadius":14},
"encoding":{"x":{"field":"date","type":"temporal"},"x2":{"field":"date2"},"y":{"field":"price","type":"quantitative"},"y2":{"field":"price2"}}},
{"data":{"values":[{"date":"2025-10-09T01:30:00Z","date2":"2025-10-24T13:12:00Z","price":3.775,"price2":3.544}]},
"mark":{"type":"rect","fill":"#4A4A4A","cornerRadius":4},
"encoding":{"x":{"field":"date","type":"temporal"},"x2":{"field":"date2"},"y":{"field":"price","type":"quantitative"},"y2":{"field":"price2"}}},
{"data":{"values":[{"date":"2025-10-11T12:00:00Z","price":3.6566,"label":"3.6566"}]},
"mark":{"type":"text","font":"Inter","fontSize":32,"color":"#FFFFFF","align":"left","baseline":"middle"},
"encoding":{"x":{"field":"date","type":"temporal"},"y":{"field":"price","type":"quantitative"},"text":{"field":"label"}}},
{"data":{"name":"notes"},
"mark":{"type":"text","font":"Inter","fontSize":24,"align":"left","baseline":"middle"},
"encoding":{"x":{"field":"date","type":"temporal"},"y":{"field":"price","type":"quantitative"},"text":{"field":"label"},
"color":{"condition":{"test":"datum.kind === 'value'","value":"#F23645"},"value":"#131722"}}},
{"data":{"values":[{"date":"2024-10-08T08:24:00Z","price":0.3332,"label":"TradingView"}]},
"mark":{"type":"text","font":"Inter","fontSize":40,"fontWeight":600,"color":"#131722","align":"left","baseline":"middle"},
"encoding":{"x":{"field":"date","type":"temporal"},"y":{"field":"price","type":"quantitative"},"text":{"field":"label"}}},
{"data":{"values":[{"date":"2024-10-03T11:31:00Z","price":0.3333}]},
"mark":{"type":"point","filled":true,"opacity":1,"size":3600,"color":"#131722","shape":"M-1,-0.53 L-0.18,-0.53 L-0.18,0.52 L-0.58,0.52 L-0.58,0 L-1,0 Z M0.02,-0.28 a0.18,0.18 0 1,0 0.36,0 a0.18,0.18 0 1,0 -0.36,0 Z M0.5,-0.53 L1,-0.53 L0.67,0.52 L0.16,0.52 Z"},
"encoding":{"x":{"field":"date","type":"temporal"},"y":{"field":"price","type":"quantitative"}}}
]
}
